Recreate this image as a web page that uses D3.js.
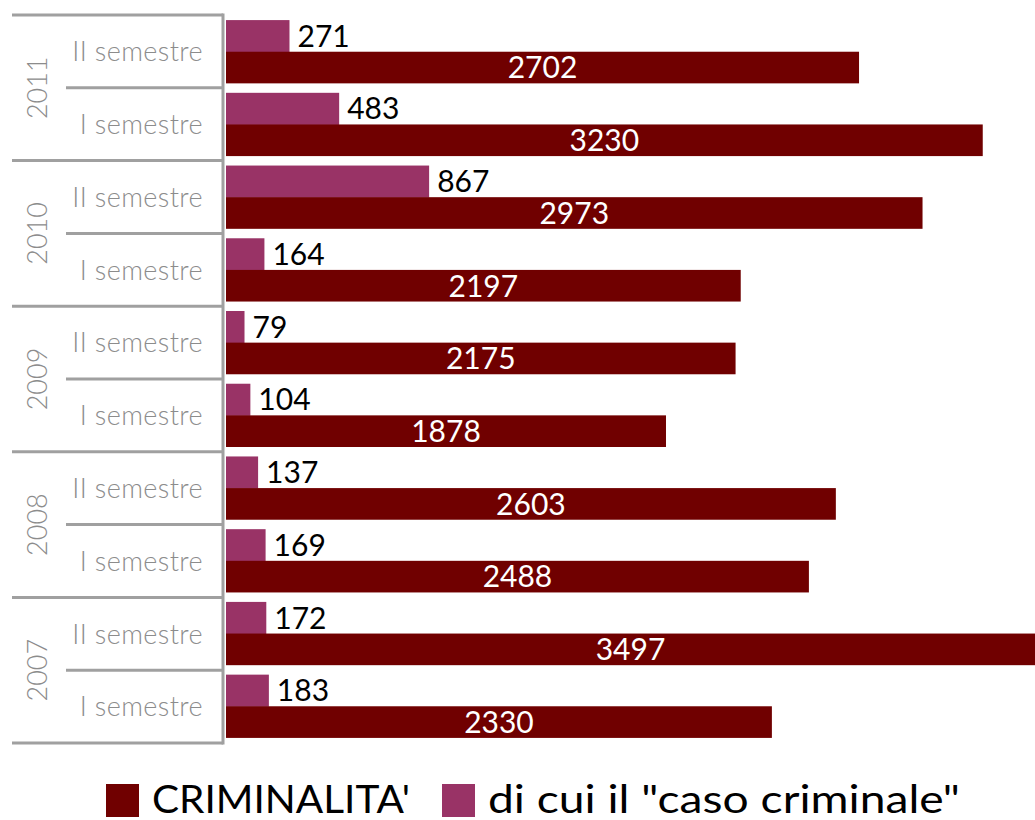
<!DOCTYPE html>
<html>
<head>
<meta charset="utf-8">
<script src="https://cdnjs.cloudflare.com/ajax/libs/d3/7.8.5/d3.min.js"></script>
<style>
  body { margin: 0; background: #fff; }
  text { font-family: "Lato", "DejaVu Sans", sans-serif; }
  .axis-label { font-weight: 300; }
</style>
</head>
<body>
<svg id="chart" width="1035" height="820"></svg>
<script>
// values in chronological order
var years = ['2007', '2008', '2009', '2010', '2011'];
var semesters = ['I semestre', 'II semestre'];
var criminalita = [2330, 3497, 2488, 2603, 1878, 2175, 2197, 2973, 3230, 2702];
var casoCriminale = [183, 172, 169, 137, 104, 79, 164, 867, 483, 271];
var seriesNames = ["CRIMINALITA'", 'di cui il "caso criminale"'];
var seriesColors = ['#700000', '#993366'];

var rows = [];
years.forEach(function (yr, i) {
    semesters.forEach(function (s, j) {
        var k = i * 2 + j;
        rows.push({ id: yr + '-' + s, year: yr, sem: s, crim: criminalita[k], caso: casoCriminale[k] });
    });
});
rows.reverse(); // latest on top

var svg = d3.select('#chart'),
    plotLeft = 226,
    plotTop = 15,
    plotBottom = 743,
    axisX = 223,
    grey = '#a0a0a0';

var x = d3.scaleLinear().domain([0, 3500]).range([plotLeft, plotLeft + 820]);

var y = d3.scaleBand()
    .domain(rows.map(function (d) { return d.id; }))
    .range([plotTop, plotBottom])
    .paddingInner(0.13)
    .paddingOuter(0.07);

var inner = d3.scaleBand().domain(['caso', 'crim']).range([0, y.bandwidth()]);

// bars
var g = svg.selectAll('g.row').data(rows).enter().append('g')
    .attr('class', 'row')
    .attr('transform', function (d) { return 'translate(0,' + y(d.id) + ')'; });

g.append('rect')
    .attr('x', x(0))
    .attr('y', inner('caso'))
    .attr('width', function (d) { return x(d.caso) - x(0); })
    .attr('height', inner.bandwidth() + 0.5)
    .attr('fill', seriesColors[1]);

g.append('rect')
    .attr('x', x(0))
    .attr('y', inner('crim'))
    .attr('width', function (d) { return x(d.crim) - x(0); })
    .attr('height', inner.bandwidth())
    .attr('fill', seriesColors[0]);

g.append('text')
    .attr('x', function (d) { return x(d.caso) + 8; })
    .attr('y', inner('caso') + inner.bandwidth() / 2)
    .attr('dy', '0.36em')
    .attr('font-size', 30)
    .attr('fill', '#000')
    .text(function (d) { return d.caso; });

g.append('text')
    .attr('x', function (d) { return (x(0) + Math.min(x(d.crim), 1035)) / 2; })
    .attr('y', inner('crim') + inner.bandwidth() / 2)
    .attr('dy', '0.36em')
    .attr('text-anchor', 'middle')
    .attr('font-size', 30)
    .attr('fill', '#fff')
    .text(function (d) { return d.crim; });

// category axis (two levels)
var edge = d3.scaleLinear().domain([0, rows.length]).range([plotTop, plotBottom]);

svg.append('line')
    .attr('x1', axisX).attr('x2', axisX)
    .attr('y1', plotTop - 1.5).attr('y2', plotBottom + 1.5)
    .attr('stroke', grey).attr('stroke-width', 3);

d3.range(rows.length + 1).forEach(function (i) {
    var isYear = i % 2 === 0;
    svg.append('line')
        .attr('x1', isYear ? 12 : 66).attr('x2', axisX)
        .attr('y1', edge(i)).attr('y2', edge(i))
        .attr('stroke', grey).attr('stroke-width', 3);
});

svg.selectAll('text.sem').data(rows).enter().append('text')
    .attr('class', 'sem axis-label')
    .attr('x', 203)
    .attr('y', function (d, i) { return (edge(i) + edge(i + 1)) / 2; })
    .attr('dy', '0.36em')
    .attr('text-anchor', 'end')
    .attr('font-size', 27)
    .attr('letter-spacing', 0.4)
    .attr('fill', '#8c8c8c')
    .text(function (d) { return d.sem; });

var yearsTop = years.slice().reverse();
svg.selectAll('text.year').data(yearsTop).enter().append('text')
    .attr('class', 'year axis-label')
    .attr('transform', function (d, i) {
        return 'translate(37,' + ((edge(i * 2) + edge(i * 2 + 2)) / 2) + ') rotate(-90)';
    })
    .attr('dy', '0.36em')
    .attr('text-anchor', 'middle')
    .attr('font-size', 27)
    .attr('fill', '#8c8c8c')
    .text(function (d) { return d; });

// legend
var legend = [
    { name: seriesNames[0], color: seriesColors[0], x: 106, len: 258 },
    { name: seriesNames[1], color: seriesColors[1], x: 442, len: 472 }
];
var lg = svg.selectAll('g.legend').data(legend).enter().append('g')
    .attr('class', 'legend')
    .attr('transform', function (d) { return 'translate(' + d.x + ',784)'; });
lg.append('rect').attr('width', 33).attr('height', 33).attr('fill', function (d) { return d.color; });
lg.append('text')
    .attr('x', 46).attr('y', 29)
    .attr('font-size', 38)
    .attr('textLength', function (d) { return d.len; })
    .attr('lengthAdjust', 'spacingAndGlyphs')
    .attr('fill', '#000')
    .text(function (d) { return d.name; });
</script>
</body>
</html>
